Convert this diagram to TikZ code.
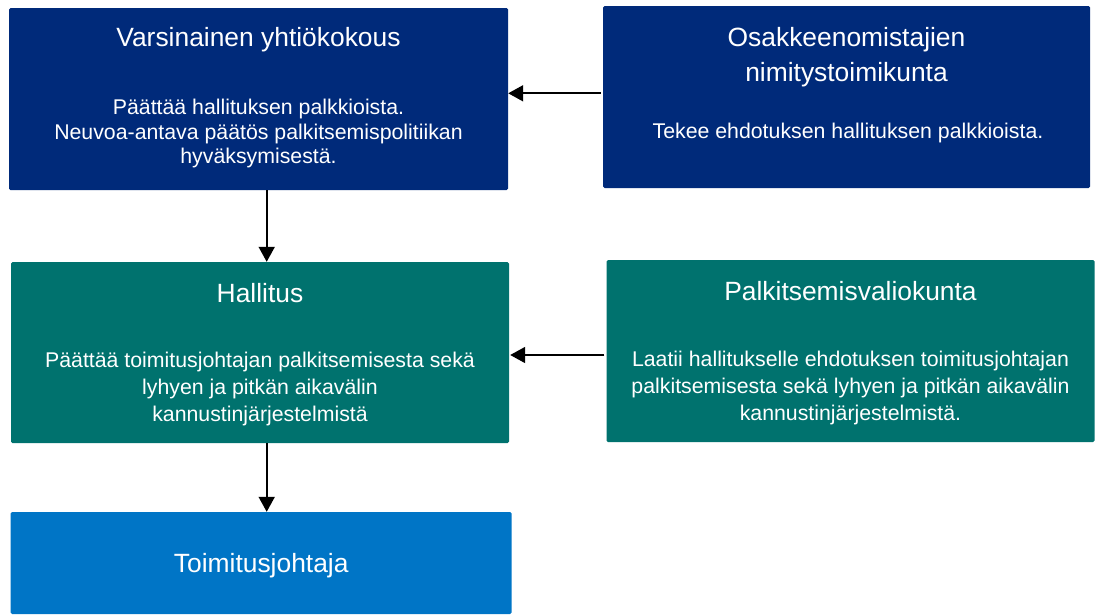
\documentclass[tikz,border=0pt]{standalone}
\usepackage{fontspec}
\setmainfont{Liberation Sans}
\usetikzlibrary{arrows.meta}
\definecolor{darkblue}{HTML}{002A7A}
\definecolor{teal}{HTML}{00726E}
\definecolor{lightblue}{HTML}{0075C6}

\begin{document}
\begin{tikzpicture}[x=1pt, y=-1pt,
  box/.style={rectangle, rounded corners=1.5pt, inner sep=0pt, minimum height=182pt},
  ttl/.style={text=white, align=center, inner sep=0pt, anchor=base,
    font=\fontsize{26.4}{35}\selectfont},
  txt/.style={text=white, align=center, inner sep=0pt, anchor=base,
    font=\fontsize{21.3}{27}\selectfont},
  arr/.style={-{Triangle[length=15pt, width=16pt]}, line width=1.8pt}]

  \useasboundingbox (0,0) rectangle (1095,614);

  %% left column
  \node[box, fill=darkblue, minimum width=499pt] (ayk) at (258.5,99) {};
  \node[box, fill=teal, minimum width=498pt, minimum height=181pt] (hal) at (260,352.5) {};
  \node[box, fill=lightblue, minimum width=501pt, minimum height=102pt] (tj) at (261.2,563) {};

  %% right column
  \node[box, fill=darkblue, minimum width=487pt] (nim) at (846.5,97) {};
  \node[box, fill=teal, minimum width=488pt] (pva) at (850.5,351) {};

  %% texts (base = last line)
  \node[ttl] (aykT) at (258.5,46.7) {Varsinainen yhtiökokous};
  \node[txt, font=\fontsize{21.3}{24.2}\selectfont] (aykB) at (258.5,163.3)
    {Päättää hallituksen palkkioista.\\Neuvoa-antava päätös palkitsemispolitiikan\\hyväksymisestä.};

  \node[ttl] (nimT) at (846.5,81.7) {Osakkeenomistajien\\nimitystoimikunta};
  \node[txt] (nimB) at (848,138) {Tekee ehdotuksen hallituksen palkkioista.};

  \node[ttl] (halT) at (260,302) {Hallitus};
  \node[txt, font=\fontsize{21.3}{27.2}\selectfont] (halB) at (260,421.7)
    {Päättää toimitusjohtajan palkitsemisesta sekä\\lyhyen ja pitkän aikavälin\\kannustinjärjestelmistä};

  \node[ttl] (pvaT) at (850.5,300.5) {Palkitsemisvaliokunta};
  \node[txt, font=\fontsize{21.3}{26.7}\selectfont] (pvaB) at (850.5,420)
    {Laatii hallitukselle ehdotuksen toimitusjohtajan\\palkitsemisesta sekä lyhyen ja pitkän aikavälin\\kannustinjärjestelmistä.};

  \node[ttl] (tjT) at (261.2,572.7) {Toimitusjohtaja};

  %% arrows
  \draw[arr] ([xshift=-2pt, yshift=3.7pt]nim.west) -- ([yshift=5.7pt]ayk.east);
  \draw[arr] ([xshift=-2pt, yshift=-4pt]pva.west) -- ([xshift=1pt, yshift=-2.5pt]hal.east);
  \draw[arr] ([xshift=8.2pt]ayk.south) -- ([xshift=6.7pt]hal.north);
  \draw[arr] ([xshift=6.7pt]hal.south) -- ([xshift=5.5pt]tj.north);
\end{tikzpicture}
\end{document}
